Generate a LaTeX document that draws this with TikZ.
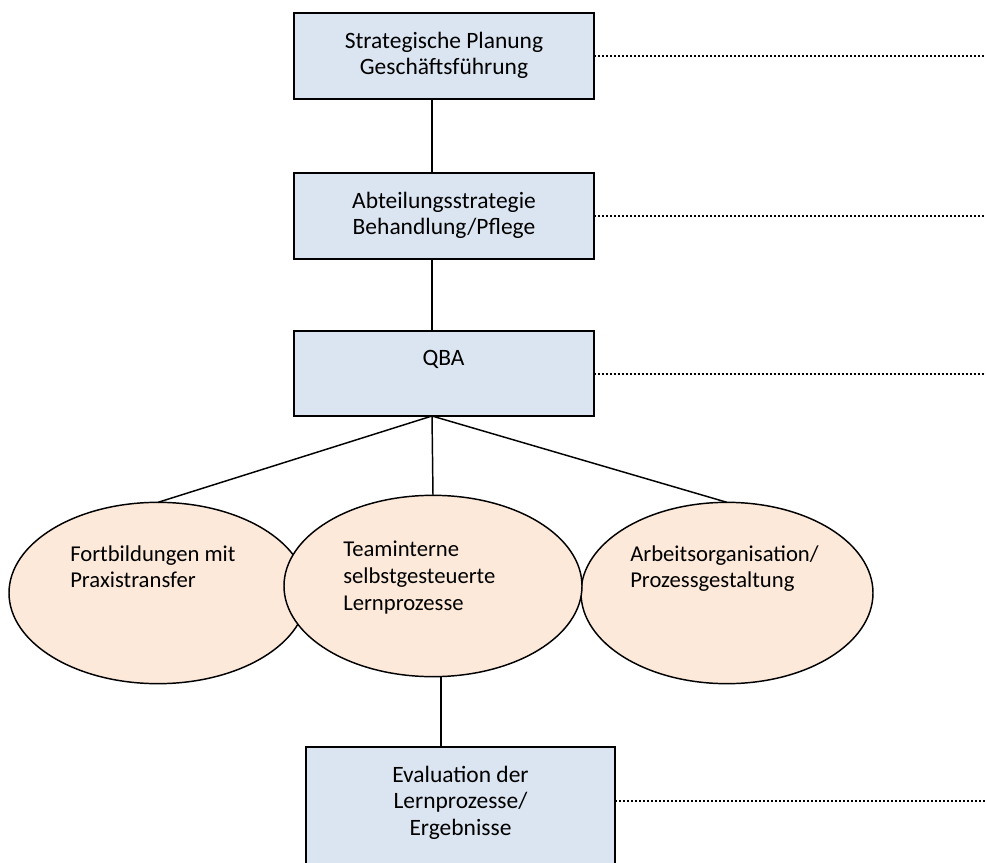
\documentclass[tikz,border=0pt]{standalone}
\usepackage{fontspec}
\setmainfont{Carlito}
\usetikzlibrary{shapes.geometric}
\definecolor{boxblue}{HTML}{DBE5F1}
\definecolor{ellorange}{HTML}{FDE9D9}
\begin{document}
\begin{tikzpicture}[x=0.75pt,y=-0.75pt,
  box/.style={draw=black, line width=1.5pt, fill=boxblue, minimum width=225pt, minimum height=64.5pt, inner sep=0pt, outer sep=0pt},
  blob/.style={ellipse, draw=black, line width=1.1pt, fill=ellorange, inner sep=0pt, outer sep=0pt, minimum width=223.5pt, minimum height=136pt},
  txt/.style={font=\fontsize{17.6}{20}\selectfont, align=center, inner sep=0pt, anchor=north},
  ltxt/.style={font=\fontsize{17}{20}\selectfont, align=left, inner sep=0pt, anchor=north west},
  conn/.style={line width=1.1pt},
  dotline/.style={line width=1.5pt, dash pattern=on 1.5pt off 1.5pt}]
\useasboundingbox (0,0) rectangle (986,863);
\clip (0,0) rectangle (986,863);
\coordinate (vx) at (432,0);
\coordinate (vy) at (441,0);
\coordinate (d1) at (986,56);
\coordinate (d2) at (986,216);
\coordinate (d3) at (986,373.5);
\coordinate (d5) at (986,801);
% boxes
\node[box] (b1) at (444,56) {};
\node[txt] (t1) at ([yshift=-14pt]b1.north) {Strategische Planung\\Geschäftsführung};
\node[box] (b2) at (444,216) {};
\node[txt] (t2) at ([yshift=-14pt]b2.north) {Abteilungsstrategie\\Behandlung/Pflege};
\node[box, minimum height=63.75pt] (b3) at (443.5,373.5) {};
\node[txt] (t3) at ([yshift=-14pt]b3.north) {QBA};
\node[box, minimum width=231.75pt, minimum height=97.5pt] (b5) at (460.5,812) {};
\node[txt] (t5) at ([yshift=-14pt]b5.north) {Evaluation der\\Lernprozesse/\\Ergebnisse};
% ellipses
\node[blob] (e1) at (158,593) {};
\node[blob, minimum width=219pt] (e3) at (727,593) {};
\node[blob] (e2) at (433,586) {};
\node[ltxt] (l1) at (70,545) {Fortbildungen mit\\Praxistransfer};
\node[ltxt] (l2) at (343,541) {Teaminterne\\selbstgesteuerte\\Lernprozesse};
\node[ltxt] (l3) at (630,545) {Arbeitsorganisation/\\Prozessgestaltung};
% connectors
\draw[conn] (b1.south -| vx) -- (b2.north -| vx);
\draw[conn] (b2.south -| vx) -- (b3.north -| vx);
\draw[conn] (b3.south -| vx) -- (e1.north);
\draw[conn] (b3.south -| vx) -- (e2.north);
\draw[conn] (b3.south -| vx) -- (e3.north);
\draw[conn] (e2.south -| vy) -- (b5.north -| vy);
% dotted leaders
\draw[dotline] (b1.east) -- (d1);
\draw[dotline] (b2.east) -- (d2);
\draw[dotline] (b3.east) -- (d3);
\draw[dotline] (b5.east |- d5) -- (d5);
\end{tikzpicture}
\end{document}
